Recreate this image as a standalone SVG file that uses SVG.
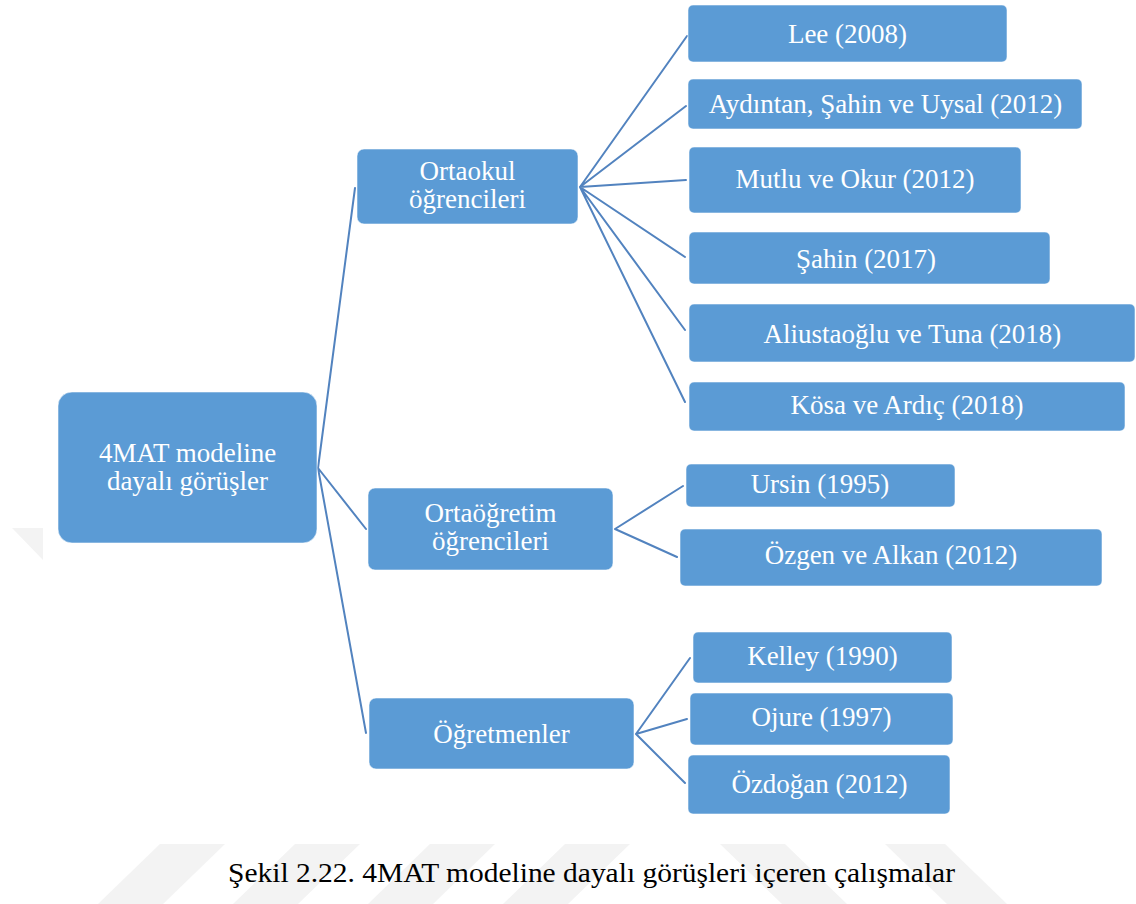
<svg xmlns="http://www.w3.org/2000/svg" width="1136" height="904" viewBox="0 0 1136 904">
  <style>
    .box { fill: #5b9bd5; stroke: #ffffff; stroke-opacity: 0.55; stroke-width: 1; }
    .lbl { font-family: "Liberation Serif", "Times New Roman", serif; font-size: 27px; fill: #ffffff; text-anchor: middle; }
    .edge { fill: none; stroke: #5283bf; stroke-width: 2; stroke-linecap: round; }
    .mark { fill: #f3f3f3; }
    .cap { font-family: "Liberation Serif", "Times New Roman", serif; font-size: 27px; fill: #000000; }
  </style>

  <rect width="1136" height="904" fill="#ffffff"/>

  <!-- faint background watermark -->
  <g id="watermark">
    <polygon class="mark" points="12,528 43,528 43,560"/>
    <polygon class="mark" points="160,844 225,844 163,904 98,904"/>
    <polygon class="mark" points="295,844 360,844 298,904 233,904"/>
    <polygon class="mark" points="430,844 495,844 433,904 368,904"/>
    <polygon class="mark" points="565,844 630,844 568,904 503,904"/>
    <polygon class="mark" points="720,844 785,844 847,904 782,904"/>
    <polygon class="mark" points="885,844 945,844 1007,904 947,904"/>
  </g>

  <!-- connectors -->
  <g id="connectors">
    <path class="edge" d="M318,468 L355,188 M318,468 L366,529 M318,468 L366,733"/>
    <path class="edge" d="M580,187 L687,36 M580,187 L686,106 M580,187 L686,180 M580,187 L685,257 M580,187 L685,330 M580,187 L685,402"/>
    <path class="edge" d="M615,529 L683,486 M615,529 L677,557"/>
    <path class="edge" d="M636,734 L690,658 M636,734 L687,719 M636,734 L685,783"/>
  </g>

  <!-- root -->
  <g id="root">
    <rect class="box" x="58" y="392" width="259" height="151" rx="14"/>
    <text class="lbl" x="187.5" y="462">4MAT modeline</text>
    <text class="lbl" x="187.5" y="490">dayalı görüşler</text>
  </g>

  <!-- second level -->
  <g id="ortaokul">
    <rect class="box" x="357" y="149" width="221" height="75" rx="7"/>
    <text class="lbl" x="467.5" y="180">Ortaokul</text>
    <text class="lbl" x="467.5" y="208">öğrencileri</text>
  </g>
  <g id="ortaogretim">
    <rect class="box" x="368" y="488" width="245" height="82" rx="7"/>
    <text class="lbl" x="490.5" y="522">Ortaöğretim</text>
    <text class="lbl" x="490.5" y="550">öğrencileri</text>
  </g>
  <g id="ogretmenler">
    <rect class="box" x="369" y="698" width="265" height="71" rx="7"/>
    <text class="lbl" x="501.5" y="743">Öğretmenler</text>
  </g>

  <!-- ortaokul studies -->
  <g id="lee">
    <rect class="box" x="688" y="5" width="319" height="57" rx="5"/>
    <text class="lbl" x="847.5" y="43">Lee (2008)</text>
  </g>
  <g id="aydintan">
    <rect class="box" x="688" y="79" width="394" height="50" rx="5"/>
    <text class="lbl" x="885.5" y="113">Aydıntan, Şahin ve Uysal (2012)</text>
  </g>
  <g id="mutlu">
    <rect class="box" x="689" y="147" width="332" height="66" rx="5"/>
    <text class="lbl" x="855" y="188">Mutlu ve Okur (2012)</text>
  </g>
  <g id="sahin">
    <rect class="box" x="689" y="232" width="361" height="52" rx="5"/>
    <text class="lbl" x="866" y="268">Şahin (2017)</text>
  </g>
  <g id="aliustaoglu">
    <rect class="box" x="689" y="304" width="446" height="58" rx="5"/>
    <text class="lbl" x="912.5" y="343">Aliustaoğlu ve Tuna (2018)</text>
  </g>
  <g id="kosa">
    <rect class="box" x="689" y="382" width="436" height="49" rx="5"/>
    <text class="lbl" x="907" y="414">Kösa ve Ardıç (2018)</text>
  </g>

  <!-- ortaogretim studies -->
  <g id="ursin">
    <rect class="box" x="686" y="464" width="269" height="43" rx="5"/>
    <text class="lbl" x="820" y="493">Ursin (1995)</text>
  </g>
  <g id="ozgen">
    <rect class="box" x="680" y="529" width="422" height="57" rx="5"/>
    <text class="lbl" x="891" y="564">Özgen ve Alkan (2012)</text>
  </g>

  <!-- ogretmenler studies -->
  <g id="kelley">
    <rect class="box" x="693" y="632" width="259" height="51" rx="5"/>
    <text class="lbl" x="822.5" y="665">Kelley (1990)</text>
  </g>
  <g id="ojure">
    <rect class="box" x="690" y="693" width="263" height="52" rx="5"/>
    <text class="lbl" x="821.5" y="726">Ojure (1997)</text>
  </g>
  <g id="ozdogan">
    <rect class="box" x="688" y="755" width="262" height="59" rx="5"/>
    <text class="lbl" x="819.5" y="793">Özdoğan (2012)</text>
  </g>

  <!-- figure caption -->
  <text class="cap" x="228" y="882" textLength="727" lengthAdjust="spacingAndGlyphs">Şekil 2.22. 4MAT modeline dayalı görüşleri içeren çalışmalar</text>
</svg>
